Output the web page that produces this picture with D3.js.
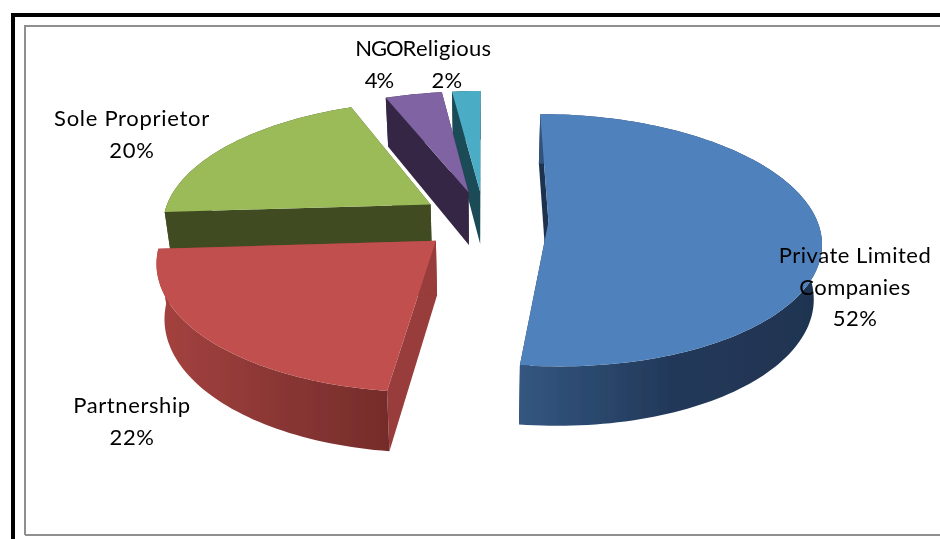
<!DOCTYPE html>
<html><head><meta charset="utf-8">
<script src="https://cdn.jsdelivr.net/npm/d3@7/dist/d3.min.js"></script>
<style>html,body{margin:0;padding:0;background:#fff}svg{display:block}
text{font-family:Lato,"Open Sans",sans-serif;font-size:22px;fill:#000;text-anchor:middle}</style>
</head><body><svg id="c" width="940" height="539"></svg>
<script>
const categories = ["Private Limited Companies","Partnership","Sole Proprietor","NGO","Religious"];
const values = [52,22,20,4,2];
const topColors = ["#4f81bd","#c0504d","#9bbb59","#8064a2","#4bacc6"];
const wallStops = [["#345680","#22395a","#1f3350"],["#a5423f","#8b3735","#752c2a"],["#414b22","#414b22","#414b22"],["#352745","#352745","#352745"],["#1e4b59","#1e4b59","#1e4b59"]];
const sideWall = ["#1f3350","#983c3a","#414b22","#352745","#1e4b59"];
const labelLines = [["Private Limited","Companies","52%"],["Partnership","22%"],["Sole Proprietor","20%"],["NGO","4%"],["Religious","2%"]];
const labelAnchors = [[855,263],[132,413],[132,126],[379,56],[447,56]];
const labelSpacing = [0.5,0.6,0.7,-1,0.3];
const lineStep = 31.5;
const explode = 0.24, depth = 55, persp = 0.1456, zShrink = 0.025;
const paintOrder = [4,3,2,0,1];

const svg = d3.select("#c");
const defs = svg.append("defs");
defs.append("filter").attr("id","soft").attr("x","-5%").attr("y","-5%").attr("width","110%").attr("height","110%")
  .append("feGaussianBlur").attr("stdDeviation",0.55);
defs.append("filter").attr("id","softText").append("feGaussianBlur").attr("stdDeviation",0.3);

const xS = d3.scaleLinear().domain([-1,1]).range([484-268.5,484+268.5]);
const yS = d3.scaleLinear().domain([-1,1]).range([220+122.9,220-122.9]);
const zS = d3.scaleLinear().domain([0,1]).range([0,depth]);

function project(X,Y,z){
  const w=(1+persp*Y)*(1+zShrink*z);
  return [xS(X/w), yS(Y/w)+zS(z)/w];
}
const pie = d3.pie().sort(null).startAngle(0).endAngle(2*Math.PI);
const arcs = pie(values);
const path = d3.line();

function sliceGeom(a){
  const mid=(a.startAngle+a.endAngle)/2;
  const ox=explode*Math.sin(mid), oy=explode*Math.cos(mid);
  const rim=(t,z)=>project(ox+Math.sin(t),oy+Math.cos(t),z);
  const apex=z=>project(ox,oy,z);
  const n=Math.max(6,Math.ceil((a.endAngle-a.startAngle)*40));
  const ts=d3.range(n+1).map(i=>a.startAngle+(a.endAngle-a.startAngle)*i/n);
  return {rim,apex,ts};
}

// frame
const black="#000", gray="#8f8f8f";
svg.append("path").attr("d",path([[13,539],[13,15],[940,15]])).attr("fill","none").attr("stroke",black).attr("stroke-width",4);
svg.append("path").attr("d",path([[25,535],[25,26],[940,26]])).attr("fill","none").attr("stroke",gray).attr("stroke-width",2);
svg.append("path").attr("d",path([[25,535],[940,535]])).attr("fill","none").attr("stroke",gray).attr("stroke-width",2);

const marks = svg.append("g").attr("filter","url(#soft)");
paintOrder.forEach(i=>{
  const a=arcs[i], g=sliceGeom(a), gid="wall"+i;
  const lg=defs.append("linearGradient").attr("id",gid).attr("x1",0).attr("x2",1).attr("y1",0).attr("y2",0);
  wallStops[i].forEach((c,k)=>lg.append("stop").attr("offset",k/2).attr("stop-color",c));
  // radial side walls
  [a.startAngle,a.endAngle].forEach(t=>{
    marks.append("path").attr("fill",sideWall[i])
      .attr("d",path([g.rim(t,0),g.apex(0),g.apex(1),g.rim(t,1)])+"Z");
  });
  // outer curved wall
  const wall=g.ts.map(t=>g.rim(t,0)).concat(g.ts.slice().reverse().map(t=>g.rim(t,1)));
  marks.append("path").attr("fill",`url(#${gid})`).attr("d",path(wall)+"Z");
  // top face
  const face=[g.apex(0)].concat(g.ts.map(t=>g.rim(t,0)));
  marks.append("path").attr("fill",topColors[i]).attr("d",path(face)+"Z");
});

const tg=svg.append("g").attr("filter","url(#softText)");
labelLines.forEach((lines,i)=>{
  lines.forEach((s,k)=>{
    tg.append("text").attr("x",labelAnchors[i][0]).attr("y",labelAnchors[i][1]+k*lineStep)
      .attr("letter-spacing",labelSpacing[i]).text(s);
  });
});
</script></body></html>
